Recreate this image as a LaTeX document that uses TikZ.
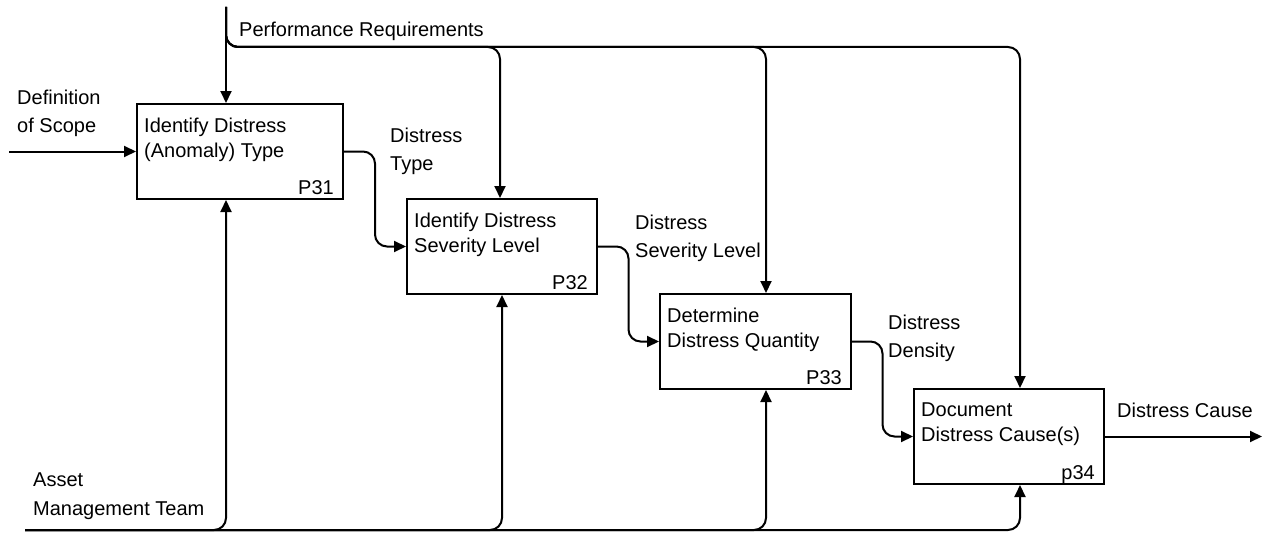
\documentclass[tikz,border=0pt]{standalone}
\usepackage{fontspec}
\setmainfont{Liberation Sans}
\usetikzlibrary{arrows.meta,calc}
\begin{document}
\begin{tikzpicture}[x=1pt,y=-1pt,
  every node/.style={font=\fontsize{20}{28}\selectfont},
  procbox/.style={draw,line width=2pt,minimum width=#1,minimum height=95pt,inner sep=0pt,anchor=north west},
  boxtext/.style={anchor=north west,inner sep=0pt,align=left,font=\fontsize{20}{25}\selectfont},
  boxid/.style={anchor=base east,inner sep=0pt},
  flowlabel/.style={anchor=north west,inner sep=0pt,align=left},
  flow/.style={line width=2pt,rounded corners=12pt,-{Triangle[length=12pt,width=11pt]}}]
\useasboundingbox (0,0) rectangle (1272,535);

% activity boxes
\node[procbox=206pt] (b1) at (136,103) {};
\node[procbox=190pt] (b2) at (406,198) {};
\node[procbox=191pt] (b3) at (659,293) {};
\node[procbox=190pt] (b4) at (913,388) {};

% box titles and numbers
\node[boxtext] (t1) at ($(b1.north west)+(8,15)$) {Identify Distress\\(Anomaly) Type};
\node[boxtext] (t2) at ($(b2.north west)+(8,15)$) {Identify Distress\\Severity Level};
\node[boxtext] (t3) at ($(b3.north west)+(8,15)$) {Determine\\Distress Quantity};
\node[boxtext] (t4) at ($(b4.north west)+(8,15)$) {Document\\Distress Cause(s)};
\node[boxid] (n1) at ($(b1.south east)+(-10,-6)$) {P31};
\node[boxid] (n2) at ($(b2.south east)+(-10,-6)$) {P32};
\node[boxid] (n3) at ($(b3.south east)+(-10,-6)$) {P33};
\node[boxid] (n4) at ($(b4.south east)+(-10,-6)$) {p34};

% free ends of the boundary arrows
\coordinate (prTop) at (226,7);
\coordinate (prBus) at (226,47);
\coordinate (dsIn) at (9,152);
\coordinate (amIn) at (25,530);
\coordinate (dcOut) at (1262,436);

% controls: performance requirements
\draw[flow] (prTop) -- (prTop |- b1.north);
\draw[flow] (prTop) -- (prBus) -- (500,47) -- (500,0 |- b2.north);
\draw[flow] (prTop) -- (prBus) -- (766,47) -- (766,0 |- b3.north);
\draw[flow] (prTop) -- (prBus) -- (1020,47) -- (1020,0 |- b4.north);

% input: definition of scope
\draw[flow] (dsIn |- b1.west) -- (b1.west);

% outputs chained between the boxes
\draw[flow] (b1.east) -| ($(b1.east)!0.5!(b2.west)$) |- (b2.west);
\draw[flow] (b2.east) -| ($(b2.east)!0.5!(b3.west)$) |- (b3.west);
\draw[flow] (b3.east) -| ($(b3.east)!0.5!(b4.west)$) |- (b4.west);
\draw[flow] (b4.east) -- (dcOut |- b4.east);

% mechanism: asset management team
\draw[flow] (amIn) -- (226,530) -- (226,0 |- b1.south);
\draw[flow] (amIn) -- (502,530) -- (502,0 |- b2.south);
\draw[flow] (amIn) -- (766,530) -- (766,0 |- b3.south);
\draw[flow] (amIn) -- (1020,530) -- (1020,0 |- b4.south);

% arrow labels
\node[flowlabel] (lpr) at (239,22) {Performance Requirements};
\node[flowlabel] (lds) at (17,90) {Definition\\of Scope};
\node[flowlabel] (ldt) at (390,128) {Distress\\Type};
\node[flowlabel] (lsl) at (635,215) {Distress\\Severity Level};
\node[flowlabel] (ldd) at (888,315) {Distress\\Density};
\node[flowlabel] (ldc) at (1117,403) {Distress Cause};
\node[flowlabel,font=\fontsize{20}{29}\selectfont] (lam) at (33,473) {Asset\\Management Team};
\end{tikzpicture}
\end{document}
